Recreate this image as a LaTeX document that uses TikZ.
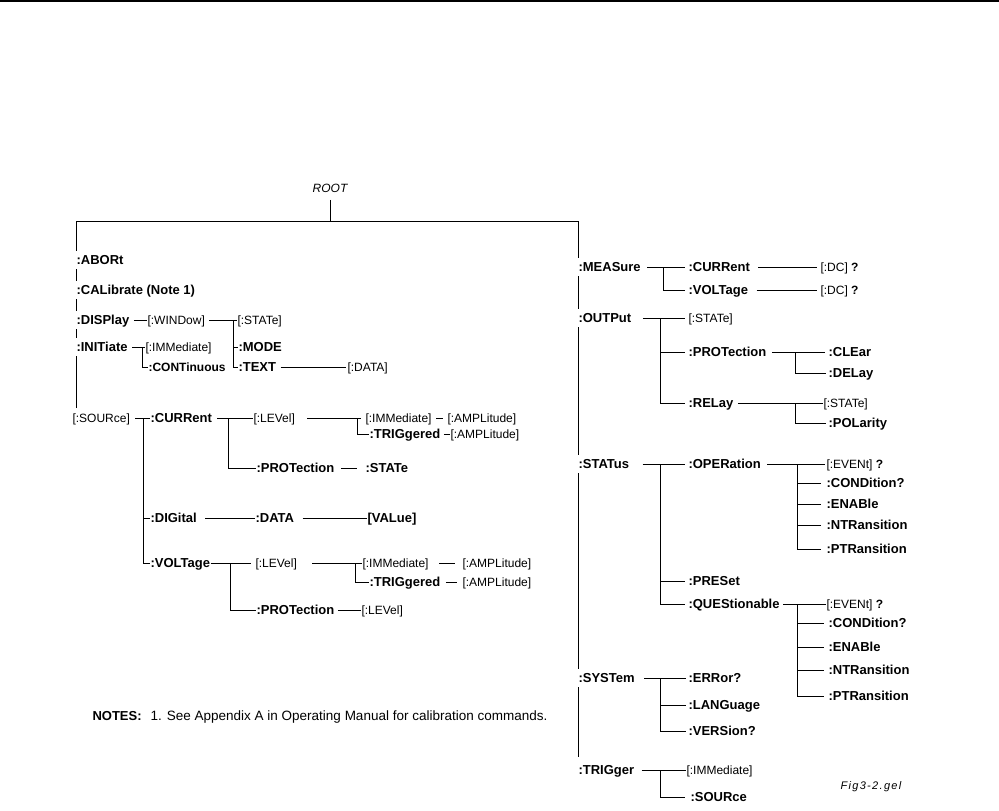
\documentclass[tikz,border=0pt]{standalone}
\usepackage{fontspec}
\setmainfont{Liberation Sans}
\newfontfamily\figfont[LetterSpace=12]{Liberation Sans}
\usetikzlibrary{backgrounds}
\begin{document}
\begin{tikzpicture}[x=1pt,y=-1pt, line width=1.1pt,
  cmd/.style={anchor=west, inner xsep=0pt, inner ysep=2pt, font=\fontsize{13}{13}\selectfont\bfseries, text height=9.3pt, text depth=0pt},
  opt/.style={anchor=west, inner xsep=0pt, inner ysep=2pt, font=\fontsize{12}{12}\selectfont, text height=8.6pt, text depth=0pt},
  ontrunk/.style={fill=white, inner ysep=4pt, inner xsep=1pt},
  rule/.style={line width=2pt}]
\useasboundingbox (0,0) rectangle (999,811);
\coordinate (tl) at (0,1);
\coordinate (tr) at (999,1);
% ---- root
\node[font=\fontsize{12}{12}\selectfont\itshape, inner sep=1pt] (root) at (330,188) {ROOT};
\coordinate (topL) at (76,221);
\coordinate (topR) at (578,221);
\coordinate (trunkL) at (76,408);
\coordinate (trunkR) at (578,757);
% ---- left column
\node[cmd,ontrunk] (abort) at (75,260) {:ABORt};
\node[cmd,ontrunk] (cal) at (75,290) {:CALibrate (Note 1)};
\node[cmd,ontrunk] (disp) at (75,320) {:DISPlay};
\node[opt] (win) at (147,320) {[:WINDow]};
\node[opt] (dstate) at (237,320) {[:STATe]};
\node[cmd] (mode) at (238,347) {:MODE};
\node[cmd] (text) at (238,367) {:TEXT};
\node[opt] (tdata) at (347,367) {[:DATA]};
\node[cmd,ontrunk] (init) at (75,347) {:INITiate};
\node[opt] (iimm) at (145,347) {[:IMMediate]};
\node[cmd, font=\fontsize{12}{12}\selectfont\bfseries] (cont) at (148,367) {:CONTinuous};
\node[opt] (src) at (72,418) {[:SOURce]};
\node[cmd] (curr) at (150,418) {:CURRent};
\node[opt] (clev) at (253,418) {[:LEVel]};
\node[opt] (cimm) at (365,418) {[:IMMediate]};
\node[opt] (camp1) at (447,418) {[:AMPLitude]};
\node[cmd] (ctrig) at (369,434) {:TRIGgered};
\node[opt] (camp2) at (450,434) {[:AMPLitude]};
\node[cmd] (cprot) at (256,468) {:PROTection};
\node[cmd] (cstate) at (365,468) {:STATe};
\node[cmd] (dig) at (150,518) {:DIGital};
\node[cmd] (ddata) at (255,518) {:DATA};
\node[cmd] (val) at (367,518) {[VALue]};
\node[cmd] (volt) at (150,563) {:VOLTage};
\node[opt] (vlev) at (255,563) {[:LEVel]};
\node[opt] (vimm) at (362,563) {[:IMMediate]};
\node[opt] (vamp1) at (462,563) {[:AMPLitude]};
\node[cmd] (vtrig) at (369,582) {:TRIGgered};
\node[opt] (vamp2) at (462,582) {[:AMPLitude]};
\node[cmd] (vprot) at (256,610) {:PROTection};
\node[opt] (vplev) at (361,610) {[:LEVel]};
\node[anchor=west, inner sep=0pt] (notes) at (92,717) {\fontsize{13}{13}\selectfont\bfseries NOTES:\hspace{9pt}\fontsize{13.5}{13.5}\selectfont\mdseries 1. See Appendix A in Operating Manual for calibration commands.};
% ---- right column
\node[cmd,ontrunk] (meas) at (577,267) {:MEASure};
\node[cmd] (mcurr) at (688,267) {:CURRent};
\node[opt] (dc1) at (820,267) {[:DC] \textbf{?}};
\node[cmd] (mvolt) at (688,290) {:VOLTage};
\node[opt] (dc2) at (820,290) {[:DC] \textbf{?}};
\node[cmd,ontrunk] (outp) at (577,318) {:OUTPut};
\node[opt] (ostate) at (688,318) {[:STATe]};
\node[cmd] (oprot) at (688,352) {:PROTection};
\node[cmd] (clear) at (828,352) {:CLEar};
\node[cmd] (delay) at (828,373) {:DELay};
\node[cmd] (relay) at (688,403) {:RELay};
\node[opt] (rstate) at (823,403) {[:STATe]};
\node[cmd] (pol) at (828,423) {:POLarity};
\node[cmd,ontrunk] (stat) at (577,464) {:STATus};
\node[cmd] (oper) at (688,464) {:OPERation};
\node[opt] (oev) at (826,464) {[:EVENt] \textbf{?}};
\node[cmd] (ocond) at (826,483) {:CONDition?};
\node[cmd] (oen) at (826,504) {:ENABle};
\node[cmd] (ontr) at (826,525) {:NTRansition};
\node[cmd] (optr) at (826,549) {:PTRansition};
\node[cmd] (pres) at (688,581) {:PRESet};
\node[cmd] (ques) at (688,604) {:QUEStionable};
\node[opt] (qev) at (826,604) {[:EVENt] \textbf{?}};
\node[cmd] (qcond) at (828,623) {:CONDition?};
\node[cmd] (qen) at (828,647) {:ENABle};
\node[cmd] (qntr) at (828,670) {:NTRansition};
\node[cmd] (qptr) at (828,696) {:PTRansition};
\node[cmd,ontrunk] (syst) at (577,678) {:SYSTem};
\node[cmd] (err) at (688,678) {:ERRor?};
\node[cmd] (lang) at (688,705) {:LANGuage};
\node[cmd] (vers) at (688,731) {:VERSion?};
\node[cmd,ontrunk] (trig) at (577,770) {:TRIGger};
\node[opt] (timm) at (686,770) {[:IMMediate]};
\node[cmd] (tsrc) at (690,797) {:SOURce};
\node[font=\fontsize{11}{11}\selectfont\figfont\itshape, anchor=west, inner sep=0pt] (fig) at (840,787) {Fig3-2.gel};
% ---- bracket x positions
\coordinate (bW) at (233,0);
\coordinate (bI) at (142,0);
\coordinate (bS) at (143,0);
\coordinate (bC) at (228,0);
\coordinate (bCL) at (357,0);
\coordinate (bV) at (230,0);
\coordinate (bVL) at (355,0);
\coordinate (bM) at (663,0);
\coordinate (bO) at (660,0);
\coordinate (bP) at (795,0);
\coordinate (bOp) at (797,0);
\begin{scope}[on background layer]
\draw[rule] (tl) -- (tr);
\draw[shorten <=6pt] (root.south) -- (root.south |- topL);
\draw (trunkL) -- (topL) -- (topR) -- (trunkR);
% display
\draw ([xshift=3pt]disp.east) -- (win.west);
\draw ([xshift=4pt]win.east) -- (win.east -| bW) -- (text.west -| bW) -- (text.west);
\draw (win.east -| bW) -- (dstate.west);
\draw (mode.west -| bW) -- (mode.west);
\draw ([xshift=4pt]text.east) -- ([xshift=-1pt]tdata.west);
% initiate
\draw ([xshift=3pt]init.east) -- (iimm.west);
\draw (init.east -| bI) -- (cont.west -| bI) -- (cont.west);
% source
\draw ([xshift=5pt]src.east) -- (curr.west);
\draw (src.east -| bS) -- (volt.west -| bS) -- (volt.west);
\draw (dig.west -| bS) -- (dig.west);
% current
\draw ([xshift=5pt]curr.east) -- (clev.west);
\draw (curr.east -| bC) -- (cprot.west -| bC) -- (cprot.west);
\draw ([xshift=12pt]clev.east) -- (clev.east -| bCL) -- (ctrig.west -| bCL) -- (ctrig.west);
\draw (clev.east -| bCL) -- ([xshift=-4pt]cimm.west);
\draw ([xshift=4pt]cimm.east) -- ([xshift=-4pt]camp1.west);
\draw ([xshift=3pt]ctrig.east) -- (camp2.west);
\draw ([xshift=6pt]cprot.east) -- ([xshift=-8pt]cstate.west);
% digital
\draw ([xshift=8pt]dig.east) -- (ddata.west);
\draw ([xshift=8pt]ddata.east) -- (val.west);
% voltage
\draw (volt.east) -- ([xshift=-4pt]vlev.west);
\draw (volt.east -| bV) -- (vprot.west -| bV) -- (vprot.west);
\draw ([xshift=15pt]vlev.east) -- (vlev.east -| bVL) -- (vtrig.west -| bVL) -- (vtrig.west);
\draw (vlev.east -| bVL) -- (vimm.west);
\draw ([xshift=10pt]vimm.east) -- ([xshift=-7pt]vamp1.west);
\draw ([xshift=5pt]vtrig.east) -- ([xshift=-5pt]vamp2.west);
\draw ([xshift=3pt]vprot.east) -- (vplev.west);
% measure
\draw ([xshift=5pt]meas.east) -- ([xshift=-3pt]mcurr.west);
\draw (meas.east -| bM) -- (mvolt.west -| bM) -- ([xshift=-3pt]mvolt.west);
\draw ([xshift=8pt]mcurr.east) -- ([xshift=-3pt]dc1.west);
\draw ([xshift=8pt]mvolt.east) -- ([xshift=-3pt]dc2.west);
% output
\draw ([xshift=10pt]outp.east) -- ([xshift=-3pt]ostate.west);
\draw (outp.east -| bO) -- (relay.west -| bO) -- ([xshift=-3pt]relay.west);
\draw (oprot.west -| bO) -- ([xshift=-3pt]oprot.west);
\draw ([xshift=5pt]oprot.east) -- ([xshift=-3pt]clear.west);
\draw (oprot.east -| bP) -- (delay.west -| bP) -- ([xshift=-2pt]delay.west);
\draw ([xshift=4pt]relay.east) -- (rstate.west);
\draw (relay.east -| bP) -- (pol.west -| bP) -- ([xshift=-2pt]pol.west);
% status
\draw ([xshift=12pt]stat.east) -- ([xshift=-3pt]oper.west);
\draw (stat.east -| bO) -- (ques.west -| bO) -- ([xshift=-3pt]ques.west);
\draw (pres.west -| bO) -- ([xshift=-3pt]pres.west);
\draw ([xshift=6pt]oper.east) -- ([xshift=-1pt]oev.west);
\draw (oper.east -| bOp) -- (optr.west -| bOp) -- ([xshift=-5pt]optr.west);
\draw (ocond.west -| bOp) -- ([xshift=-5pt]ocond.west);
\draw (oen.west -| bOp) -- ([xshift=-5pt]oen.west);
\draw (ontr.west -| bOp) -- ([xshift=-5pt]ontr.west);
\draw ([xshift=3pt]ques.east) -- (qev.west);
\draw (ques.east -| bOp) -- (qptr.west -| bOp) -- ([xshift=-4pt]qptr.west);
\draw (qcond.west -| bOp) -- ([xshift=-4pt]qcond.west);
\draw (qen.west -| bOp) -- ([xshift=-4pt]qen.west);
\draw (qntr.west -| bOp) -- ([xshift=-4pt]qntr.west);
% system
\draw ([xshift=8pt]syst.east) -- ([xshift=-2pt]err.west);
\draw (syst.east -| bO) -- (vers.west -| bO) -- ([xshift=-2pt]vers.west);
\draw (lang.west -| bO) -- ([xshift=-2pt]lang.west);
% trigger
\draw ([xshift=6pt]trig.east) -- (timm.west);
\draw (trig.east -| bO) -- (tsrc.west -| bO) -- ([xshift=-5pt]tsrc.west);
\end{scope}
\end{tikzpicture}
\end{document}
